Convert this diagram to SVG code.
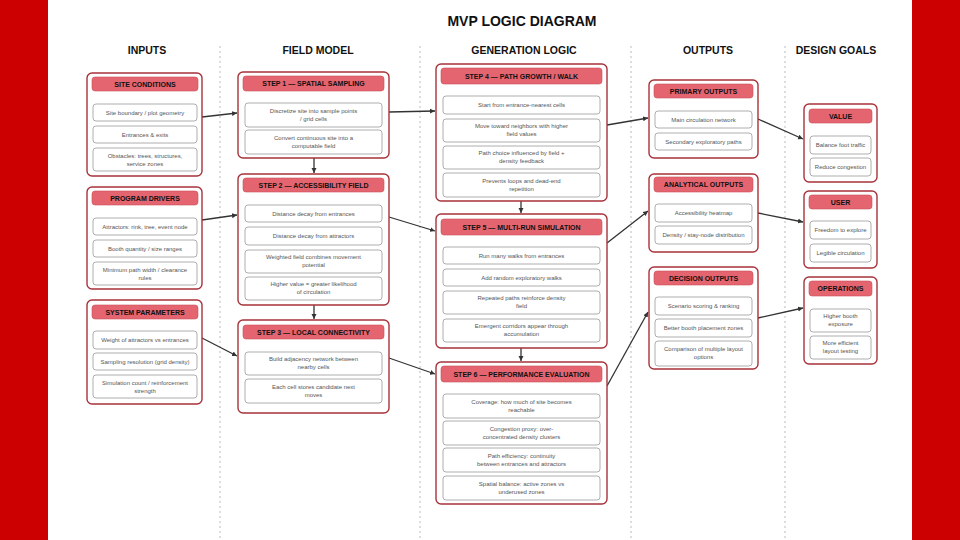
<svg xmlns="http://www.w3.org/2000/svg" width="960" height="540" viewBox="0 0 960 540">
<defs>
<style>
.card{fill:#fff;stroke:#a8323a;stroke-width:1.4}
.hd{fill:#e4646f;stroke:#c9505a;stroke-width:0.6}
.it{fill:#fff;stroke:#9a9a9a;stroke-width:0.8}
.ht{font-family:"Liberation Sans",Arial,sans-serif;font-size:7px;font-weight:bold;fill:#111;text-anchor:middle}
.tt{font-family:"Liberation Sans",Arial,sans-serif;font-size:6px;fill:#555;text-anchor:middle}
.col{font-family:"Liberation Sans",Arial,sans-serif;font-size:10.5px;font-weight:bold;fill:#111;text-anchor:middle}
.div{stroke:#bbb;stroke-width:1;stroke-dasharray:2 3}
.cn{stroke:#333;stroke-width:1.3;fill:none;marker-end:url(#ah)}
</style>
<marker id="ah" markerWidth="6" markerHeight="6" refX="5" refY="3" orient="auto" markerUnits="userSpaceOnUse"><path d="M0,0.5 L5,3 L0,5.5z" fill="#333"/></marker>
</defs>
<rect width="960" height="540" fill="#cc0000"/>
<rect x="48" y="0" width="864" height="540" fill="#fff"/>
<text x="522" y="26" class="col" font-size="14" style="font-size:14px">MVP LOGIC DIAGRAM</text>
<text x="147" y="54" class="col">INPUTS</text>
<text x="318" y="54" class="col">FIELD MODEL</text>
<text x="524" y="54" class="col">GENERATION LOGIC</text>
<text x="708" y="54" class="col">OUTPUTS</text>
<text x="836" y="54" class="col">DESIGN GOALS</text>
<line class="div" x1="220" y1="46" x2="220" y2="540"/>
<line class="div" x1="420" y1="46" x2="420" y2="540"/>
<line class="div" x1="631" y1="46" x2="631" y2="540"/>
<line class="div" x1="785" y1="46" x2="785" y2="540"/>

<g id="connectors">
<line class="cn" x1="202" y1="117" x2="237" y2="113"/>
<line class="cn" x1="202" y1="220" x2="237" y2="215"/>
<line class="cn" x1="202" y1="338" x2="237" y2="356"/>
<line class="cn" x1="314" y1="158" x2="314" y2="173"/>
<line class="cn" x1="314" y1="305" x2="314" y2="319"/>
<line class="cn" x1="389" y1="112" x2="435" y2="111"/>
<line class="cn" x1="389" y1="217" x2="435" y2="231"/>
<line class="cn" x1="389" y1="358" x2="435" y2="374"/>
<line class="cn" x1="521" y1="201" x2="521" y2="213"/>
<line class="cn" x1="521" y1="348" x2="521" y2="361"/>
<line class="cn" x1="607" y1="125" x2="648" y2="118"/>
<line class="cn" x1="607" y1="243" x2="648" y2="211"/>
<line class="cn" x1="607" y1="386" x2="648" y2="312"/>
<line class="cn" x1="758" y1="119" x2="803" y2="139"/>
<line class="cn" x1="758" y1="213" x2="803" y2="222"/>
<line class="cn" x1="758" y1="318" x2="803" y2="308"/>
</g>

<g id="site">
<rect class="card" x="87" y="73" width="115" height="103" rx="5"/>
<rect class="hd" x="92" y="77" width="106" height="14" rx="3"/><text class="ht" x="145" y="86.5">SITE CONDITIONS</text>
<rect class="it" x="93" y="104" width="104" height="17" rx="3"/><text class="tt" x="145" y="114.5">Site boundary / plot geometry</text>
<rect class="it" x="93" y="126" width="104" height="17" rx="3"/><text class="tt" x="145" y="136.5">Entrances &amp; exits</text>
<rect class="it" x="93" y="148" width="104" height="23" rx="3"/><text class="tt" x="145" y="157.5">Obstacles: trees, structures,</text><text class="tt" x="145" y="165.5">service zones</text>
</g>
<g id="program">
<rect class="card" x="87" y="187" width="115" height="102" rx="5"/>
<rect class="hd" x="92" y="191" width="106" height="14" rx="3"/><text class="ht" x="145" y="200.5">PROGRAM DRIVERS</text>
<rect class="it" x="93" y="218" width="104" height="17" rx="3"/><text class="tt" x="145" y="228.5">Attractors: rink, tree, event node</text>
<rect class="it" x="93" y="240" width="104" height="17" rx="3"/><text class="tt" x="145" y="250.5">Booth quantity / size ranges</text>
<rect class="it" x="93" y="262" width="104" height="23" rx="3"/><text class="tt" x="145" y="271.5">Minimum path width / clearance</text><text class="tt" x="145" y="279.5">rules</text>
</g>
<g id="system">
<rect class="card" x="87" y="300" width="115" height="104" rx="5"/>
<rect class="hd" x="92" y="305" width="106" height="14" rx="3"/><text class="ht" x="145" y="314.5">SYSTEM PARAMETERS</text>
<rect class="it" x="93" y="331" width="104" height="18" rx="3"/><text class="tt" x="145" y="342">Weight of attractors vs entrances</text>
<rect class="it" x="93" y="353" width="104" height="17" rx="3"/><text class="tt" x="145" y="363.5">Sampling resolution (grid density)</text>
<rect class="it" x="93" y="375" width="104" height="23" rx="3"/><text class="tt" x="145" y="384.5">Simulation count / reinforcement</text><text class="tt" x="145" y="392.5">strength</text>
</g>

<g id="step1">
<rect class="card" x="238" y="72" width="151" height="86" rx="5"/>
<rect class="hd" x="243" y="76" width="141" height="15" rx="3"/><text class="ht" x="313.5" y="86">STEP 1 — SPATIAL SAMPLING</text>
<rect class="it" x="245" y="103" width="137" height="24" rx="3"/><text class="tt" x="313.5" y="112.5">Discretize site into sample points</text><text class="tt" x="313.5" y="120.5">/ grid cells</text>
<rect class="it" x="245" y="130" width="137" height="24" rx="3"/><text class="tt" x="313.5" y="139.5">Convert continuous site into a</text><text class="tt" x="313.5" y="147.5">computable field</text>
</g>
<g id="step2">
<rect class="card" x="238" y="174" width="151" height="131" rx="5"/>
<rect class="hd" x="243" y="178" width="141" height="14" rx="3"/><text class="ht" x="313.5" y="187.5">STEP 2 — ACCESSIBILITY FIELD</text>
<rect class="it" x="245" y="205" width="137" height="17" rx="3"/><text class="tt" x="313.5" y="215.5">Distance decay from entrances</text>
<rect class="it" x="245" y="227" width="137" height="18" rx="3"/><text class="tt" x="313.5" y="238">Distance decay from attractors</text>
<rect class="it" x="245" y="250" width="137" height="23" rx="3"/><text class="tt" x="313.5" y="259">Weighted field combines movement</text><text class="tt" x="313.5" y="267">potential</text>
<rect class="it" x="245" y="277" width="137" height="23" rx="3"/><text class="tt" x="313.5" y="286">Higher value = greater likelihood</text><text class="tt" x="313.5" y="294">of circulation</text>
</g>
<g id="step3">
<rect class="card" x="238" y="320" width="151" height="93" rx="5"/>
<rect class="hd" x="243" y="325" width="141" height="14" rx="3"/><text class="ht" x="313.5" y="334.5">STEP 3 — LOCAL CONNECTIVITY</text>
<rect class="it" x="245" y="352" width="137" height="23" rx="3"/><text class="tt" x="313.5" y="361">Build adjacency network between</text><text class="tt" x="313.5" y="369">nearby cells</text>
<rect class="it" x="245" y="379" width="137" height="24" rx="3"/><text class="tt" x="313.5" y="388.5">Each cell stores candidate next</text><text class="tt" x="313.5" y="396.5">moves</text>
</g>

<g id="step4">
<rect class="card" x="436" y="64" width="171" height="137" rx="5"/>
<rect class="hd" x="441" y="68" width="161" height="16" rx="3"/><text class="ht" x="521.5" y="78.5">STEP 4 — PATH GROWTH / WALK</text>
<rect class="it" x="443" y="96" width="157" height="18" rx="3"/><text class="tt" x="521.5" y="107">Start from entrance-nearest cells</text>
<rect class="it" x="443" y="119" width="157" height="23" rx="3"/><text class="tt" x="521.5" y="128">Move toward neighbors with higher</text><text class="tt" x="521.5" y="136">field values</text>
<rect class="it" x="443" y="146" width="157" height="23" rx="3"/><text class="tt" x="521.5" y="155">Path choice influenced by field +</text><text class="tt" x="521.5" y="163">density feedback</text>
<rect class="it" x="443" y="173" width="157" height="24" rx="3"/><text class="tt" x="521.5" y="182.5">Prevents loops and dead-end</text><text class="tt" x="521.5" y="190.5">repetition</text>
</g>
<g id="step5">
<rect class="card" x="436" y="214" width="171" height="134" rx="5"/>
<rect class="hd" x="441" y="219" width="161" height="16" rx="3"/><text class="ht" x="521.5" y="229.5">STEP 5 — MULTI-RUN SIMULATION</text>
<rect class="it" x="443" y="247" width="157" height="17" rx="3"/><text class="tt" x="521.5" y="257.5">Run many walks from entrances</text>
<rect class="it" x="443" y="269" width="157" height="17" rx="3"/><text class="tt" x="521.5" y="279.5">Add random exploratory walks</text>
<rect class="it" x="443" y="291" width="157" height="23" rx="3"/><text class="tt" x="521.5" y="300">Repeated paths reinforce density</text><text class="tt" x="521.5" y="308">field</text>
<rect class="it" x="443" y="319" width="157" height="23" rx="3"/><text class="tt" x="521.5" y="328">Emergent corridors appear through</text><text class="tt" x="521.5" y="336">accumulation</text>
</g>
<g id="step6">
<rect class="card" x="436" y="362" width="171" height="142" rx="5"/>
<rect class="hd" x="441" y="366" width="161" height="16" rx="3"/><text class="ht" x="521.5" y="376.5">STEP 6 — PERFORMANCE EVALUATION</text>
<rect class="it" x="443" y="394" width="157" height="24" rx="3"/><text class="tt" x="521.5" y="403.5">Coverage: how much of site becomes</text><text class="tt" x="521.5" y="411.5">reachable</text>
<rect class="it" x="443" y="421" width="157" height="24" rx="3"/><text class="tt" x="521.5" y="430.5">Congestion proxy: over-</text><text class="tt" x="521.5" y="438.5">concentrated density clusters</text>
<rect class="it" x="443" y="448" width="157" height="24" rx="3"/><text class="tt" x="521.5" y="457.5">Path efficiency: continuity</text><text class="tt" x="521.5" y="465.5">between entrances and attractors</text>
<rect class="it" x="443" y="476" width="157" height="24" rx="3"/><text class="tt" x="521.5" y="485.5">Spatial balance: active zones vs</text><text class="tt" x="521.5" y="493.5">underused zones</text>
</g>

<g id="primary">
<rect class="card" x="649" y="80" width="109" height="78" rx="5"/>
<rect class="hd" x="654" y="84" width="99" height="14" rx="3"/><text class="ht" x="703.5" y="93.5">PRIMARY OUTPUTS</text>
<rect class="it" x="655" y="111" width="97" height="17" rx="3"/><text class="tt" x="703.5" y="121.5">Main circulation network</text>
<rect class="it" x="655" y="133" width="97" height="17" rx="3"/><text class="tt" x="703.5" y="143.5">Secondary exploratory paths</text>
</g>
<g id="analytical">
<rect class="card" x="649" y="174" width="109" height="78" rx="5"/>
<rect class="hd" x="654" y="177" width="99" height="15" rx="3"/><text class="ht" x="703.5" y="187">ANALYTICAL OUTPUTS</text>
<rect class="it" x="655" y="204" width="97" height="18" rx="3"/><text class="tt" x="703.5" y="215">Accessibility heatmap</text>
<rect class="it" x="655" y="226" width="97" height="18" rx="3"/><text class="tt" x="703.5" y="237">Density / stay-node distribution</text>
</g>
<g id="decision">
<rect class="card" x="649" y="267" width="109" height="102" rx="5"/>
<rect class="hd" x="654" y="271" width="99" height="14" rx="3"/><text class="ht" x="703.5" y="280.5">DECISION OUTPUTS</text>
<rect class="it" x="655" y="297" width="97" height="18" rx="3"/><text class="tt" x="703.5" y="308">Scenario scoring &amp; ranking</text>
<rect class="it" x="655" y="319" width="97" height="18" rx="3"/><text class="tt" x="703.5" y="330">Better booth placement zones</text>
<rect class="it" x="655" y="341" width="97" height="25" rx="3"/><text class="tt" x="703.5" y="351">Comparison of multiple layout</text><text class="tt" x="703.5" y="359">options</text>
</g>

<g id="value">
<rect class="card" x="804" y="104" width="73" height="78" rx="5"/>
<rect class="hd" x="809" y="109" width="63" height="14" rx="3"/><text class="ht" x="840.5" y="118.5">VALUE</text>
<rect class="it" x="810" y="136" width="61" height="18" rx="3"/><text class="tt" x="840.5" y="147">Balance foot traffic</text>
<rect class="it" x="810" y="158" width="61" height="18" rx="3"/><text class="tt" x="840.5" y="169">Reduce congestion</text>
</g>
<g id="user">
<rect class="card" x="804" y="191" width="73" height="77" rx="5"/>
<rect class="hd" x="809" y="195" width="63" height="14" rx="3"/><text class="ht" x="840.5" y="204.5">USER</text>
<rect class="it" x="810" y="221" width="61" height="18" rx="3"/><text class="tt" x="840.5" y="232">Freedom to explore</text>
<rect class="it" x="810" y="244" width="61" height="18" rx="3"/><text class="tt" x="840.5" y="255">Legible circulation</text>
</g>
<g id="operations">
<rect class="card" x="804" y="277" width="73" height="87" rx="5"/>
<rect class="hd" x="809" y="281" width="63" height="15" rx="3"/><text class="ht" x="840.5" y="291">OPERATIONS</text>
<rect class="it" x="810" y="309" width="61" height="23" rx="3"/><text class="tt" x="840.5" y="318">Higher booth</text><text class="tt" x="840.5" y="326">exposure</text>
<rect class="it" x="810" y="336" width="61" height="23" rx="3"/><text class="tt" x="840.5" y="345">More efficient</text><text class="tt" x="840.5" y="353">layout testing</text>
</g>
</svg>
